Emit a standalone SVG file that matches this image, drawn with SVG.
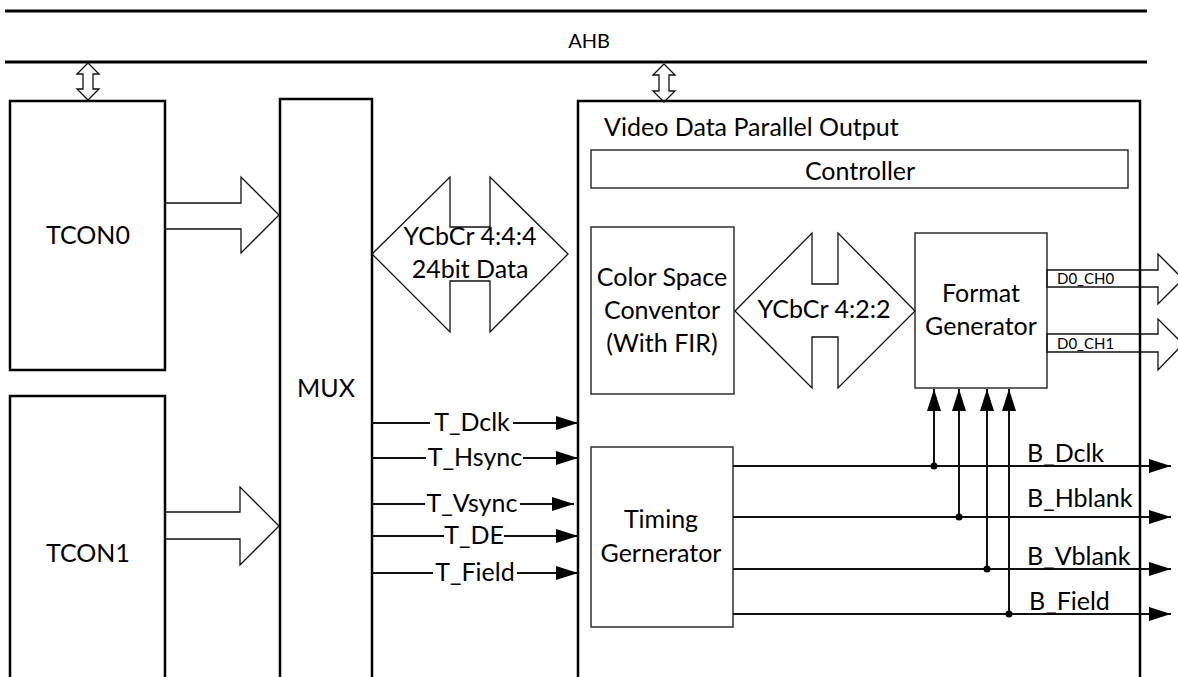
<svg xmlns="http://www.w3.org/2000/svg" width="1178" height="677" viewBox="0 0 1178 677">
<defs>
<style>
text{font-family:Lato,"Liberation Sans",sans-serif;fill:#000;font-size:25px}
.m{text-anchor:middle}
.s{font-size:15px}
.big{fill:#fff;stroke:#000;stroke-width:2.5}
.in{fill:#fff;stroke:#222;stroke-width:1.4}
.hol{fill:none;stroke:#111;stroke-width:1.3;stroke-linejoin:miter}
.sig{fill:none;stroke:#111;stroke-width:2}
.bus{stroke:#000;stroke-width:3}
</style>
<marker id="ah" viewBox="0 0 22 14" refX="22" refY="7" markerWidth="22" markerHeight="14" markerUnits="userSpaceOnUse" orient="auto">
<path d="M0,0 L22,7 L0,14 Z" fill="#000"/>
</marker>
</defs>

<g id="ahb">
<line class="bus" x1="5" y1="11" x2="1147" y2="11"/>
<line class="bus" x1="5" y1="62" x2="1147" y2="62"/>
<text class="m" x="589" y="48" style="font-size:20px">AHB</text>
</g>

<g id="tcon0">
<rect class="big" x="10" y="101" width="155" height="269"/>
<text class="m" x="88" y="244">TCON0</text>
</g>
<g id="tcon1">
<rect class="big" x="10" y="396" width="155" height="300"/>
<text class="m" x="88" y="562">TCON1</text>
</g>
<g id="mux">
<rect class="big" x="280" y="99" width="92" height="600"/>
<text class="m" x="326" y="397">MUX</text>
</g>
<g id="vdpo">
<rect class="big" x="578" y="101" width="562" height="600"/>
<text x="604" y="136">Video Data Parallel Output</text>
</g>
<g id="controller">
<rect class="in" x="591" y="150" width="537" height="38"/>
<text class="m" x="860" y="180">Controller</text>
</g>
<g id="csc">
<rect class="in" x="591" y="227" width="143" height="167"/>
<text class="m" x="662" y="286">Color Space</text>
<text class="m" x="662" y="319">Conventor</text>
<text class="m" x="662" y="352">(With FIR)</text>
</g>
<g id="fmtgen">
<rect class="in" x="915" y="233" width="132" height="155"/>
<text class="m" x="981" y="302">Format</text>
<text class="m" x="981" y="335">Generator</text>
</g>
<g id="timgen">
<rect class="in" x="591" y="447" width="142" height="180"/>
<text class="m" x="661" y="528">Timing</text>
<text class="m" x="661" y="562">Gernerator</text>
</g>

<g id="connectors">
<!-- AHB small double arrows -->
<polygon class="hol" points="88,63 99,74 93,74 93,89 99,89 88,100 77,89 83,89 83,74 77,74"/>
<polygon class="hol" points="664,64 675,75 669,75 669,91 675,91 664,102 653,91 659,91 659,75 653,75"/>
<!-- TCON to MUX -->
<polygon class="hol" points="165,203 241,203 241,177 279,215 241,253 241,229 165,229"/>
<polygon class="hol" points="165,512 240,512 240,487 279,526 240,565 240,539 165,539"/>
<!-- YCbCr 4:4:4 -->
<polygon class="hol" points="372,254 450,177 450,227 490,227 490,177 568,254 490,332 490,281 450,281 450,332"/>
<text class="m" x="470" y="245">YCbCr 4:4:4</text>
<text class="m" x="470" y="278">24bit Data</text>
<!-- YCbCr 4:2:2 -->
<polygon class="hol" points="735,311 812,233 812,284 838,284 838,233 915,311 838,388 838,337 812,337 812,388"/>
<text class="m" x="824" y="318">YCbCr 4:2:2</text>
<!-- D0 outputs -->
<polygon class="hol" points="1047,270 1158,270 1158,254 1183,279 1158,304 1158,287 1047,287"/>
<text class="s" x="1057" y="284">D0_CH0</text>
<polygon class="hol" points="1047,334 1158,334 1158,319 1183,344 1158,370 1158,352 1047,352"/>
<text class="s" x="1057" y="349">D0_CH1</text>
<!-- T signals -->
<line class="sig" x1="372" y1="423" x2="430" y2="423"/>
<line class="sig" x1="513" y1="423" x2="578" y2="423" marker-end="url(#ah)"/>
<text class="m" x="472" y="431">T_Dclk</text>
<line class="sig" x1="372" y1="458" x2="426" y2="458"/>
<line class="sig" x1="523" y1="458" x2="578" y2="458" marker-end="url(#ah)"/>
<text class="m" x="475" y="466">T_Hsync</text>
<line class="sig" x1="372" y1="504" x2="425" y2="504"/>
<line class="sig" x1="520" y1="504" x2="574" y2="504" marker-end="url(#ah)"/>
<text class="m" x="472" y="512">T_Vsync</text>
<line class="sig" x1="372" y1="536" x2="444" y2="536"/>
<line class="sig" x1="504" y1="536" x2="578" y2="536" marker-end="url(#ah)"/>
<text class="m" x="474" y="544">T_DE</text>
<line class="sig" x1="372" y1="573" x2="433" y2="573"/>
<line class="sig" x1="517" y1="573" x2="578" y2="573" marker-end="url(#ah)"/>
<text class="m" x="475" y="581">T_Field</text>
<!-- B signals -->
<line class="sig" x1="733" y1="466" x2="1171" y2="466" marker-end="url(#ah)"/>
<line class="sig" x1="733" y1="517" x2="1171" y2="517" marker-end="url(#ah)"/>
<line class="sig" x1="733" y1="569" x2="1171" y2="569" marker-end="url(#ah)"/>
<line class="sig" x1="733" y1="614" x2="1171" y2="614" marker-end="url(#ah)"/>
<line class="sig" x1="934" y1="466" x2="934" y2="389" marker-end="url(#ah)"/>
<line class="sig" x1="959" y1="517" x2="959" y2="389" marker-end="url(#ah)"/>
<line class="sig" x1="987" y1="569" x2="987" y2="389" marker-end="url(#ah)"/>
<line class="sig" x1="1009" y1="614" x2="1009" y2="389" marker-end="url(#ah)"/>
<circle cx="934" cy="466" r="3.5"/>
<circle cx="959" cy="517" r="3.5"/>
<circle cx="987" cy="569" r="3.5"/>
<circle cx="1009" cy="614" r="3.5"/>
<text x="1027" y="462">B_Dclk</text>
<text x="1027" y="507">B_Hblank</text>
<text x="1027" y="565">B_Vblank</text>
<text x="1029" y="610">B_Field</text>
</g>
</svg>
